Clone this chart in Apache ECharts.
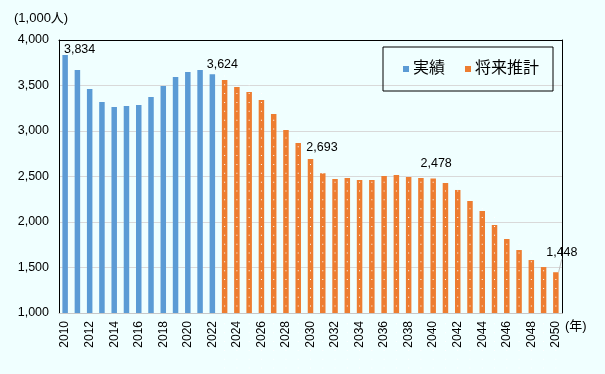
<!DOCTYPE html>
<html><head><meta charset="utf-8">
<script src="https://cdn.jsdelivr.net/npm/echarts@6/dist/echarts.min.js"></script>
<style>html,body{margin:0;padding:0;background:#F0FFFF}#c{width:605px;height:374px}</style>
</head><body><div id="c"></div>
<script>
const years = ['2010','2011','2012','2013','2014','2015','2016','2017','2018','2019','2020','2021','2022','2023','2024','2025','2026','2027','2028','2029','2030','2031','2032','2033','2034','2035','2036','2037','2038','2039','2040','2041','2042','2043','2044','2045','2046','2047','2048','2049','2050'];
const actual = [3834,3670,3461,3319,3264,3275,3286,3374,3495,3593,3648,3670,3624];
const forecast = [3560,3484,3429,3341,3187,3011,2868,2693,2535,2473,2484,2462,2462,2505,2516,2495,2484,2478,2429,2352,2231,2121,1967,1813,1692,1582,1505,1448];
const labelledYears = ['2010','2022','2030','2040','2050'];
const seriesNames = ['実績','将来推計'];
const yTicks = [1000,1500,2000,2500,3000,3500,4000];

// label placement (style, not data)
const labelMove = {'2010':[14.5,5.5],'2022':[10,1.5],'2030':[11.5,-0.5],'2040':[3,-3.5],'2050':[6,-8.5]};
const leaderYears = ['2050'];

const FONT = '"Liberation Sans","Noto Sans CJK JP",sans-serif';
const fmt = v => String(v).replace(/\B(?=(\d{3})+(?!\d))/g, ',');

const nA = actual.length;
const actualData = years.map((y,i) => i < nA ? actual[i] : '-');
const forecastData = years.map((y,i) => i >= nA ? forecast[i-nA] : '-');

function withLabels(arr){
  return arr.map((v,i) => {
    const y = years[i];
    if (v === '-' || labelledYears.indexOf(y) < 0) return v;
    return {value: v, label: {show: true}, labelLine: {show: leaderYears.indexOf(y) >= 0}};
  });
}

const labelLayout = function(p){
  const y = years[p.dataIndex];
  const m = labelMove[y];
  if (!m) return {};
  return {dx: m[0], dy: m[1]};
};

const labelCommon = {
  position: 'top', distance: 5,
  color: '#000', fontSize: 12.5, fontFamily: FONT,
  formatter: p => fmt(p.value)
};

const chart = echarts.init(document.getElementById('c'), null, {renderer: 'canvas'});
chart.setOption({
  backgroundColor: '#F0FFFF',
  animation: false,
  textStyle: {fontFamily: FONT},
  title: {
    text: '(1,000人)', left: 9, top: 7,
    textStyle: {fontSize: 13, fontWeight: 'normal', color: '#000', fontFamily: FONT}
  },
  legend: {
    data: seriesNames,
    left: 383, top: 47,
    padding: [14, 14, 14, 20],
    borderColor: '#000', borderWidth: 1,
    itemWidth: 6, itemHeight: 6, itemGap: 20,
    icon: 'rect',
    textStyle: {fontSize: 16, color: '#000', fontFamily: FONT, padding: [0,0,0,-1]}
  },
  grid: {left: 59, top: 40, right: 43, bottom: 61, containLabel: false},
  xAxis: [{
    type: 'category', data: years,
    axisLine: {show: true, lineStyle: {color: '#C8C8C8', width: 1}},
    axisTick: {show: false},
    axisLabel: {interval: 1, rotate: 90, margin: 8, fontSize: 12, color: '#000', fontFamily: FONT},
    name: '(年)', nameLocation: 'end', nameGap: 3,
    nameTextStyle: {fontSize: 13, color: '#000', fontFamily: FONT, verticalAlign: 'top', padding: [7,0,0,0]}
  }, {
    type: 'category', data: years, position: 'top',
    axisLine: {show: true, lineStyle: {color: '#000', width: 1}},
    axisTick: {show: false}, axisLabel: {show: false}
  }],
  yAxis: [{
    type: 'value', min: yTicks[0], max: yTicks[yTicks.length-1], interval: 500,
    axisLine: {show: true, lineStyle: {color: '#000', width: 1}},
    axisTick: {show: false},
    axisLabel: {margin: 10, fontSize: 12.5, color: '#000', fontFamily: FONT, formatter: v => fmt(v)},
    splitLine: {show: true, lineStyle: {color: '#D9D9D9', width: 1}}
  }, {
    type: 'value', min: yTicks[0], max: yTicks[yTicks.length-1], interval: 500, position: 'right',
    axisLine: {show: true, lineStyle: {color: '#000', width: 1}},
    axisTick: {show: false}, axisLabel: {show: false}, splitLine: {show: false}
  }],
  series: [{
    name: seriesNames[0], type: 'bar', data: withLabels(actualData),
    barWidth: 5.5, barGap: '-100%',
    itemStyle: {color: '#5B9BD5'},
    label: Object.assign({show: false}, labelCommon),
    labelLayout: labelLayout,
    z: 3
  }, {
    name: seriesNames[1], type: 'bar', data: withLabels(forecastData),
    barWidth: 5.5, barGap: '-100%',
    itemStyle: {color: '#ED7D31'},
    label: Object.assign({show: false}, labelCommon),
    labelLayout: labelLayout,
    labelLine: {show: true, lineStyle: {color: '#BFBFBF', width: 1}},
    z: 3
  }, {
    type: 'pictorialBar', data: forecastData,
    symbol: 'rect', symbolSize: [1, 1], symbolRepeat: true, symbolMargin: 4,
    symbolOffset: [0, 0], symbolPosition: 'start',
    itemStyle: {color: '#FFFFFF'},
    z: 4, silent: true
  }]
});
</script></body></html>
